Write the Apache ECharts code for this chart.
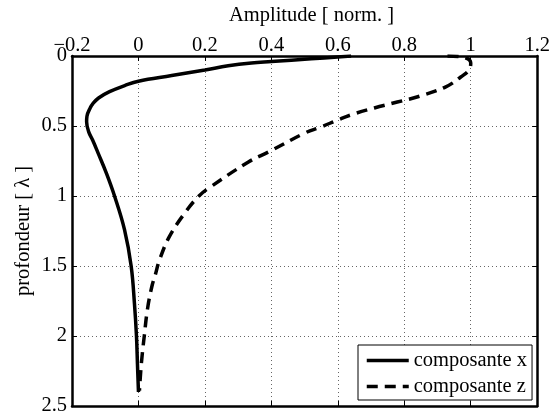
<!DOCTYPE html>
<html>
<head>
<meta charset="utf-8">
<script src="https://cdn.jsdelivr.net/npm/echarts@6/dist/echarts.min.js"></script>
<style>html,body{margin:0;padding:0;background:#fff;}#c{width:553px;height:418px;}</style>
</head>
<body>
<div id="c"></div>
<script>
// Amplitude values (x axis) and depths (y axis, in wavelengths)
const xDepth = [0, 0.02, 0.04, 0.05, 0.07, 0.1, 0.14, 0.18, 0.21, 0.255, 0.30, 0.34, 0.37, 0.43, 0.47, 0.54, 0.6, 0.69, 0.84, 1.0, 1.24, 1.5, 1.77, 2.0, 2.2, 2.4];
const xAmp   = [0.64, 0.52, 0.40, 0.34, 0.27, 0.2, 0.10, 0.0, -0.04, -0.087, -0.12, -0.137, -0.145, -0.155, -0.156, -0.150, -0.138, -0.122, -0.096, -0.072, -0.042, -0.022, -0.012, -0.006, -0.003, 0.0];
const zDepth = [0, 0.01, 0.05, 0.1, 0.15, 0.22, 0.286, 0.329, 0.371, 0.421, 0.457, 0.507, 0.55, 0.686, 0.757, 0.943, 1.0, 1.11, 1.29, 1.46, 1.56, 1.65, 1.81, 1.99, 2.19, 2.39];
const zAmp   = [0.93, 0.98, 1.0, 0.995, 0.97, 0.925, 0.848, 0.779, 0.710, 0.639, 0.600, 0.549, 0.501, 0.391, 0.331, 0.212, 0.182, 0.143, 0.093, 0.063, 0.051, 0.040, 0.027, 0.018, 0.009, 0.003];
const seriesNames = ['composante x', 'composante z'];
const xTitle = 'Amplitude [ norm. ]';
const yTitle = 'profondeur [ λ ]';

const FONT = "'Liberation Serif', 'Times New Roman', serif";
const FS = 20.5;
const pairs = (a, d) => a.map((v, i) => [v, d[i]]);

const chart = echarts.init(document.getElementById('c'), null, {renderer: 'canvas'});
const axisLineStyle = {color: '#000', width: 2.5};
chart.setOption({
  animation: false,
  backgroundColor: '#fff',
  textStyle: {fontFamily: FONT},
  grid: {left: 72, right: 12, top: 56, bottom: 12, containLabel: false},
  title: {
    text: xTitle, left: 306.5, top: 0, textAlign: 'center',
    textStyle: {fontFamily: FONT, fontSize: FS, fontWeight: 'normal', color: '#000'}
  },
  legend: {
    show: true, orient: 'vertical', left: 358, top: 345,
    data: seriesNames,
    backgroundColor: '#fff', borderColor: '#000', borderWidth: 1, borderRadius: 0,
    padding: [5, 5, 3, 7], itemWidth: 42, itemHeight: 14, itemGap: 5,
    itemStyle: {opacity: 0},
    lineStyle: {width: 3.5, color: '#000'},
    textStyle: {fontFamily: FONT, fontSize: FS, color: '#000', lineHeight: 20}
  },
  xAxis: [{
    type: 'value', position: 'top', min: -0.2, max: 1.2, interval: 0.2,
    axisLine: {show: true, onZero: false, lineStyle: axisLineStyle},
    axisTick: {show: true, inside: true, length: 5, lineStyle: {color: '#000', width: 1}},
    axisLabel: {
      fontFamily: FONT, fontSize: FS, color: '#000', margin: 0,
      formatter: v => String(Math.round(v * 10) / 10).replace('-', '\u2212')
    },
    splitLine: {show: true, lineStyle: {color: '#666', width: 1, type: [1, 3]}}
  }, {
    type: 'value', position: 'bottom', min: -0.2, max: 1.2, interval: 0.2,
    axisLine: {show: true, onZero: false, lineStyle: axisLineStyle},
    axisTick: {show: true, inside: true, length: 5, lineStyle: {color: '#000', width: 1}},
    axisLabel: {show: false}, splitLine: {show: false}
  }],
  yAxis: [{
    type: 'value', position: 'left', inverse: true, min: 0, max: 2.5, interval: 0.5,
    name: yTitle, nameLocation: 'middle', nameGap: 38, nameRotate: 90, nameMoveOverlap: false,
    nameTextStyle: {fontFamily: FONT, fontSize: FS, color: '#000'},
    axisLine: {show: true, onZero: false, lineStyle: axisLineStyle},
    axisTick: {show: true, inside: true, length: 5, lineStyle: {color: '#000', width: 1}},
    axisLabel: {fontFamily: FONT, fontSize: FS, color: '#000', margin: 5},
    splitLine: {show: true, lineStyle: {color: '#666', width: 1, type: [1, 3]}}
  }, {
    type: 'value', position: 'right', inverse: true, min: 0, max: 2.5, interval: 0.5,
    axisLine: {show: true, onZero: false, lineStyle: axisLineStyle},
    axisTick: {show: true, inside: true, length: 5, lineStyle: {color: '#000', width: 1}},
    axisLabel: {show: false}, splitLine: {show: false}
  }],
  series: [{
    name: seriesNames[0], type: 'line', xAxisIndex: 0, yAxisIndex: 0,
    data: pairs(xAmp, xDepth), smooth: 0.4, symbol: 'none',
    lineStyle: {color: '#000', width: 3.5, type: 'solid'},
    itemStyle: {color: '#000'}
  }, {
    name: seriesNames[1], type: 'line', xAxisIndex: 0, yAxisIndex: 0,
    data: pairs(zAmp, zDepth), smooth: 0.4, symbol: 'none',
    lineStyle: {color: '#000', width: 3.5, type: [11, 7]},
    itemStyle: {color: '#000'}
  }]
});
</script>
</body>
</html>
